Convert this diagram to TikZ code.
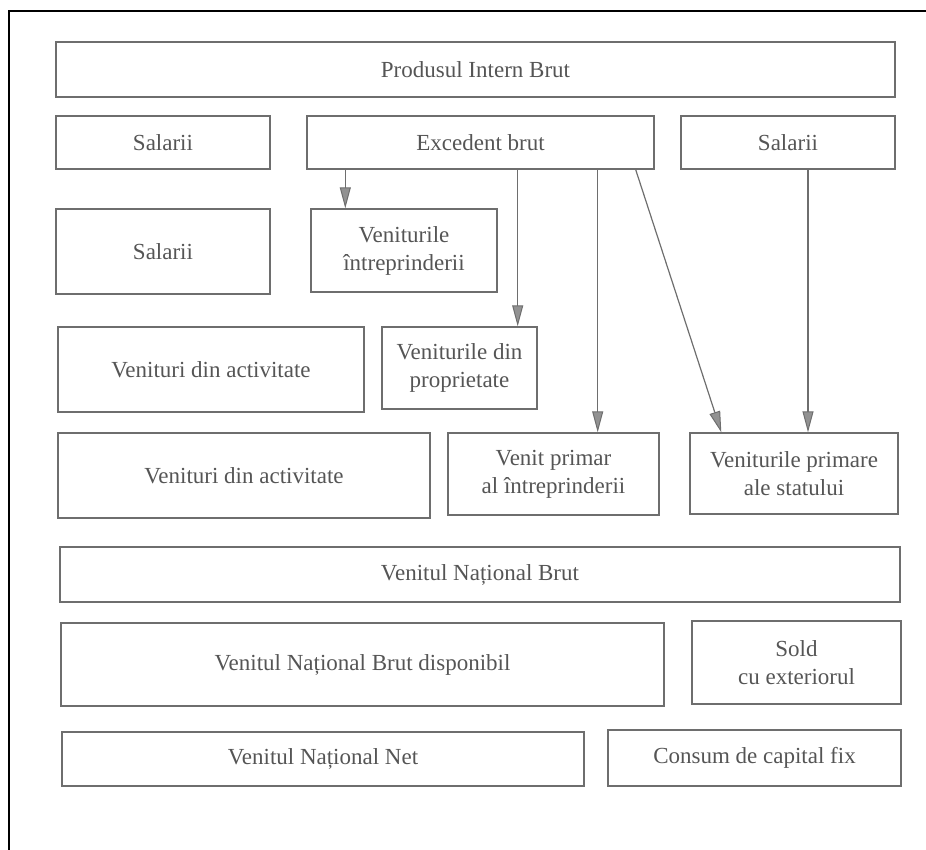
\documentclass[tikz,border=0pt]{standalone}
\usepackage{fontspec}
\setmainfont{Liberation Serif}
\usetikzlibrary{arrows.meta}
\definecolor{inkgray}{HTML}{555555}
\definecolor{linegray}{HTML}{6E6E6E}
\tikzset{
  box/.style={draw=linegray, line width=1.4pt, inner sep=0pt, align=center,
    text=inkgray, font=\fontsize{23}{28}\selectfont},
  flow/.style={draw=linegray, line width=1.2pt,
    -{Triangle[length=21pt, width=11pt, fill=linegray!75, line width=1pt]}}
}
\begin{document}
\begin{tikzpicture}[x=1pt, y=-1pt]
\useasboundingbox (0,0) rectangle (926,850);
% page frame
\draw[line width=1.6pt] (9,850) -- (9,11) -- (926,11);

% row 1
\node[box, minimum width=839pt, minimum height=55pt] (pib) at (475.5,69.5) {Produsul Intern Brut};
% row 2
\node[box, minimum width=214pt, minimum height=53pt] (sal1) at (163,142.5) {Salarii};
\node[box, minimum width=347pt, minimum height=53pt] (exc) at (480.5,142.5) {Excedent brut};
\node[box, minimum width=214pt, minimum height=53pt] (sal2) at (788,142.5) {Salarii};
% row 3
\node[box, minimum width=214pt, minimum height=85pt] (sal3) at (163,251.5) {Salarii};
\node[box, minimum width=186pt, minimum height=83pt] (vi) at (404,250.5) {Veniturile\\întreprinderii};
% row 4
\node[box, minimum width=306pt, minimum height=85pt] (va1) at (211,369.5) {Venituri din activitate};
\node[box, minimum width=155pt, minimum height=82pt] (vp) at (459.5,368) {Veniturile din\\proprietate};
% row 5
\node[box, minimum width=372pt, minimum height=85pt] (va2) at (244,475.5) {Venituri din activitate};
\node[box, minimum width=211pt, minimum height=82pt] (vpi) at (553.5,474) {Venit primar\\al întreprinderii};
\node[box, minimum width=208pt, minimum height=81pt] (vps) at (794,473.5) {Veniturile primare\\ale statului};
% row 6
\node[box, minimum width=840pt, minimum height=55pt] (vnb) at (480,574.5) {Venitul Național Brut};
% row 7
\node[box, minimum width=603pt, minimum height=83pt] (vnbd) at (362.5,664.5) {Venitul Național Brut disponibil};
\node[box, minimum width=209pt, minimum height=83pt] (sold) at (796.5,662.5) {Sold\\cu exteriorul};
% row 8
\node[box, minimum width=522pt, minimum height=54pt] (vnn) at (323,759) {Venitul Național Net};
\node[box, minimum width=293pt, minimum height=56pt] (ccf) at (754.5,758) {Consum de capital fix};

% flows out of the gross surplus and the wages
\draw[flow] ([xshift=35pt]vi.north west |- exc.south) -- ([xshift=35pt]vi.north west);
\draw[flow] ([xshift=-20pt]vp.north east |- exc.south) -- ([xshift=-20pt]vp.north east);
\draw[flow] ([xshift=-62pt]vpi.north east |- exc.south) -- ([xshift=-62pt]vpi.north east);
\draw[flow] ([xshift=-19pt]exc.south east) -- ([xshift=32pt]vps.north west);
\draw[flow] ([xshift=20pt]sal2.south) -- ([xshift=20pt]sal2.south |- vps.north);
\end{tikzpicture}
\end{document}
